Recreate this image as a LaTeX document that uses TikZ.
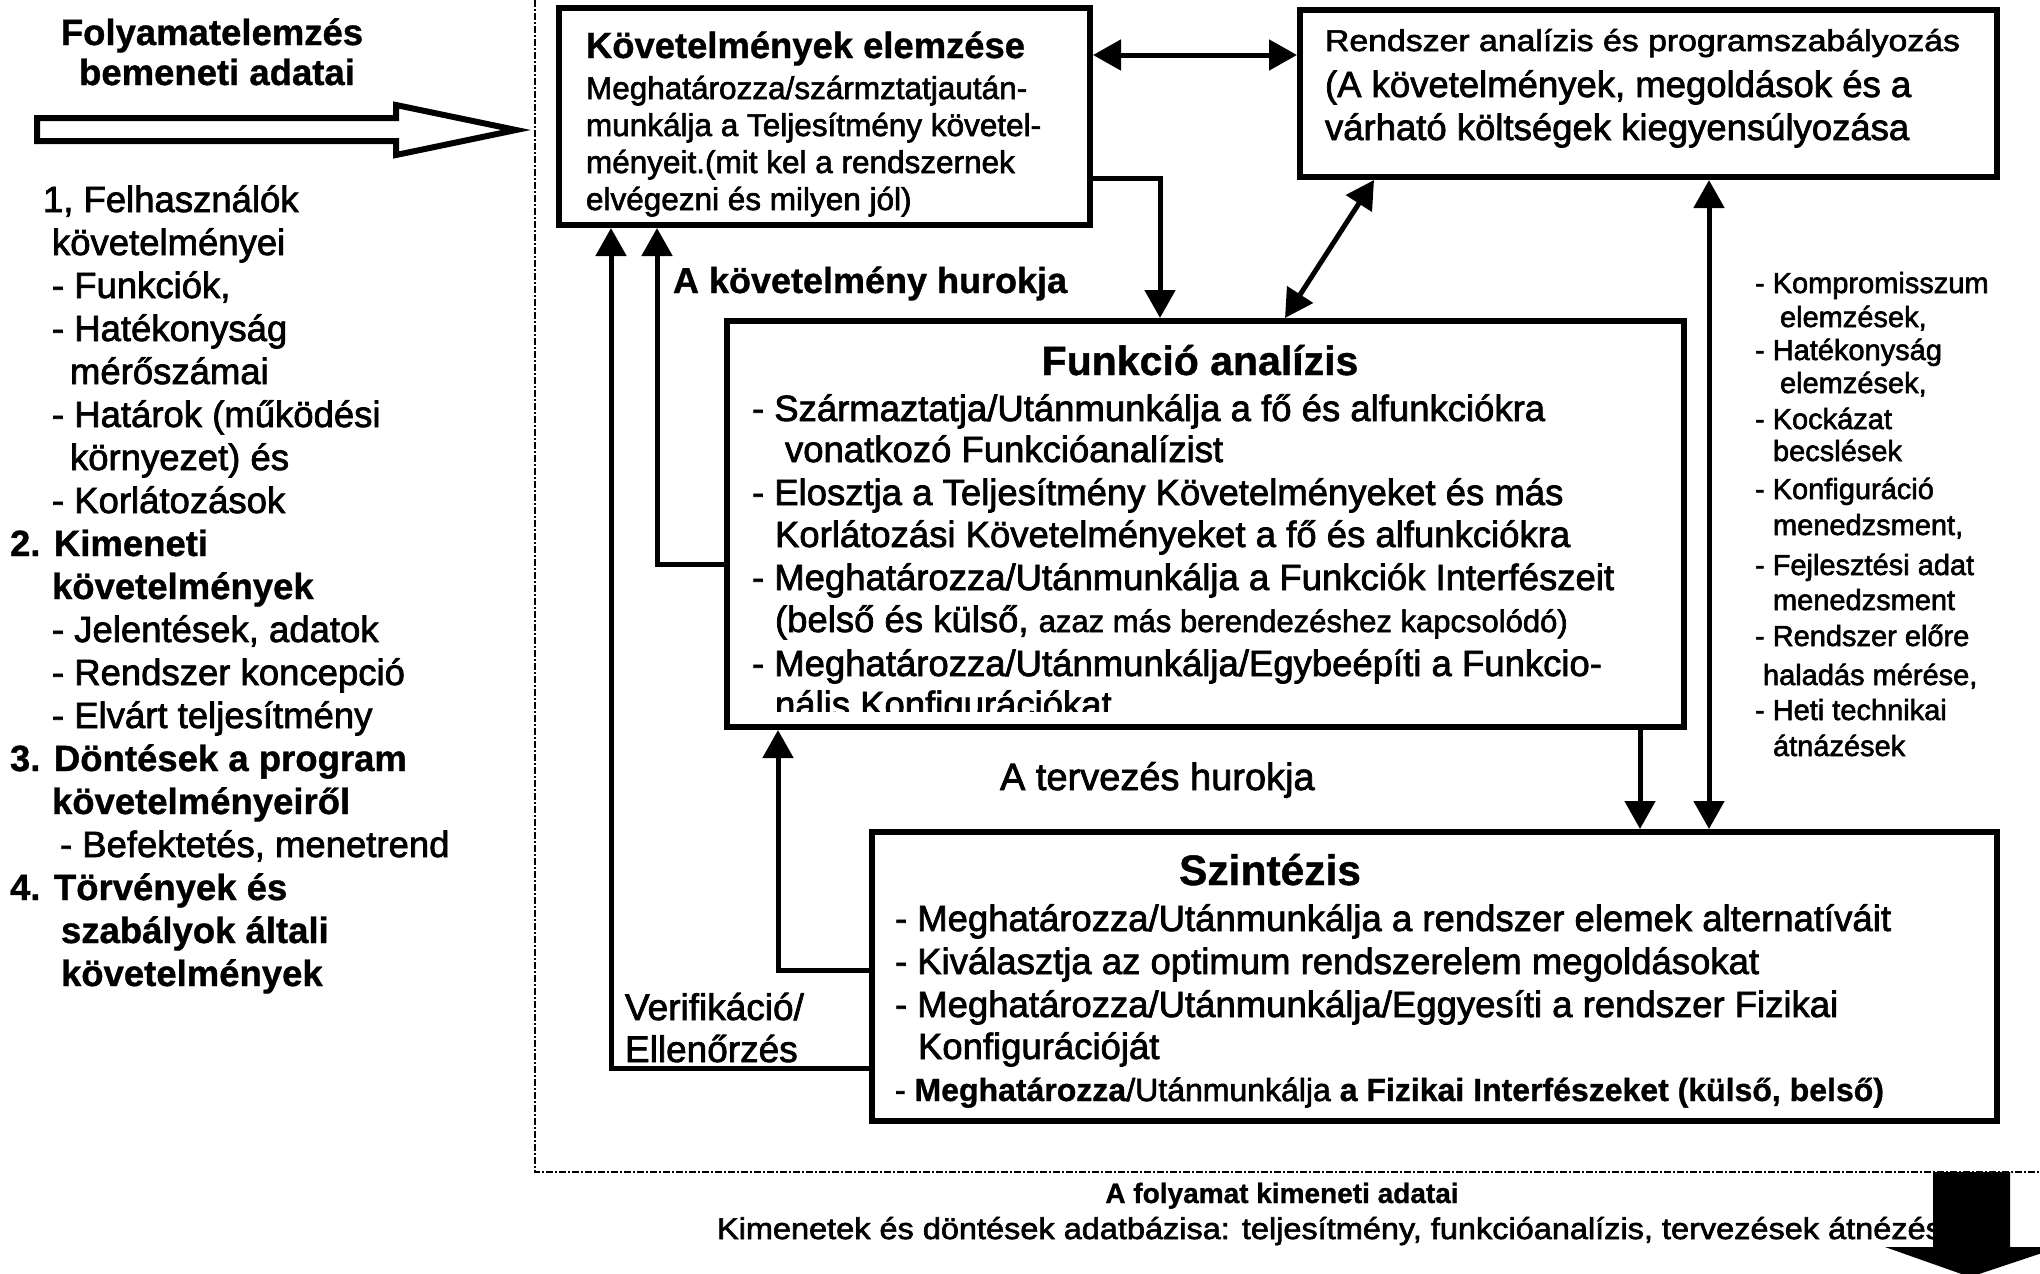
\documentclass[tikz,border=0pt]{standalone}
\usepackage{fontspec}
\setmainfont{Liberation Sans}[UprightFeatures={FakeBold=2}, BoldFeatures={FakeBold=1}]
\usetikzlibrary{arrows.meta,calc}
\newcommand\fsz[1]{\fontsize{#1pt}{#1pt}\selectfont}
\tikzset{
  box/.style={draw, line width=6pt, inner sep=0pt, outer sep=3pt},
  tx/.style={anchor=base west, inner sep=0pt, outer sep=0pt},
  tc/.style={anchor=base, inner sep=0pt, outer sep=0pt},
  conn/.style={line width=5pt},
  arr/.style={conn, -{Triangle[length=28pt,width=30pt]}},
  darr/.style={conn, {Triangle[length=28pt,width=30pt]}-{Triangle[length=28pt,width=30pt]}},
  frame/.style={line width=2.5pt, dash pattern=on 7pt off 2pt on 2pt off 2pt},
  lft/.style={tx, font=\fsz{36.5}},
  lftb/.style={tx, font=\fsz{36.5}\bfseries},
  rgt/.style={tx, font=\fsz{29}},
  body/.style={tx, font=\fsz{36.5}},
}
\begin{document}
\begin{tikzpicture}[x=1pt,y=-1pt]
\useasboundingbox (0,0) rectangle (2040,1274);
\fill[white] (0,0) rectangle (2040,1274);

% frame lines
\draw[frame] (535,0) -- (535,1172) -- (2040,1172);

% input header and hollow arrow
\node[tc, font=\fsz{36.5}\bfseries] (hd1) at (212,45) {Folyamatelemzés};
\node[tc, font=\fsz{36.5}\bfseries] (hd2) at (217,85) {bemeneti adatai};
\draw[line width=6pt, fill=white] (37,118) -- (396,118) -- (396,105) -- (516,130) -- (396,155) -- (396,141) -- (37,141) -- cycle;

% left list
\node[lft]  (L1)  at (43,212)  {1, Felhasználók};
\node[lft]  (L2)  at (52,255)  {követelményei};
\node[lft]  (L3)  at (52,298)  {- Funkciók,};
\node[lft]  (L4)  at (52,341)  {- Hatékonyság};
\node[lft]  (L5)  at (70,384)  {mérőszámai};
\node[lft]  (L6)  at (52,427)  {- Határok (működési};
\node[lft]  (L7)  at (70,470)  {környezet) és};
\node[lft]  (L8)  at (52,513)  {- Korlátozások};
\node[lftb] (L9)  at (10,556)  {2. Kimeneti};
\node[lftb] (L10) at (52,599)  {követelmények};
\node[lft]  (L11) at (52,642)  {- Jelentések, adatok};
\node[lft]  (L12) at (52,685)  {- Rendszer koncepció};
\node[lft]  (L13) at (52,728)  {- Elvárt teljesítmény};
\node[lftb] (L14) at (10,771)  {3. Döntések a program};
\node[lftb] (L15) at (52,814)  {követelményeiről};
\node[lft]  (L16) at (60,857)  {- Befektetés, menetrend};
\node[lftb] (L17) at (10,900)  {4. Törvények és};
\node[lftb] (L18) at (61,943)  {szabályok általi};
\node[lftb] (L19) at (61,986)  {követelmények};

% boxes
\node[box, minimum width=531pt, minimum height=217pt] (b1) at (824.5,116.5) {};
\node[box, minimum width=697pt, minimum height=167pt] (b2) at (1648.5,93.5) {};
\node[box, minimum width=957pt, minimum height=406pt] (fa) at (1205.5,524) {};
\node[box, minimum width=1125pt, minimum height=289pt] (sz) at (1434.5,976.5) {};

% box 1 text
\node[tx, font=\fsz{36.4}\bfseries] (b1t) at (586,58) {Követelmények elemzése};
\node[tx, font=\fsz{31.5}] (b1a) at (586,99)  {Meghatározza/szármztatjaután-};
\node[tx, font=\fsz{31.5}] (b1b) at (586,136) {munkálja a Teljesítmény követel-};
\node[tx, font=\fsz{31.5}] (b1c) at (586,173) {ményeit.(mit kel a rendszernek};
\node[tx, font=\fsz{31.5}] (b1d) at (586,210) {elvégezni és milyen jól)};

% box 2 text
\node[tx, font=\fsz{30}] (b2a) at (1325,51) {\resizebox{635pt}{\height}{Rendszer analízis és programszabályozás}};
\node[tx, font=\fsz{36.5}] (b2b) at (1325,97)  {(A követelmények, megoldások és a};
\node[tx, font=\fsz{36.5}] (b2c) at (1325,140) {várható költségek kiegyensúlyozása};

% function analysis text
\node[tc, font=\fsz{41}\bfseries] (fat) at (1200,375) {Funkció analízis};
\node[body] (fa1) at (752,421) {- Származtatja/Utánmunkálja a fő és alfunkciókra};
\node[body] (fa2) at (785,462) {vonatkozó Funkcióanalízist};
\node[body] (fa3) at (752,505) {- Elosztja a Teljesítmény Követelményeket és más};
\node[body] (fa4) at (775,547) {Korlátozási Követelményeket a fő és alfunkciókra};
\node[body] (fa5) at (752,590) {- Meghatározza/Utánmunkálja a Funkciók Interfészeit};
\node[body] (fa6) at (775,632) {(belső és külső, {\fsz{31}azaz más berendezéshez kapcsolódó)}};
\node[body] (fa7) at (752,676) {- Meghatározza/Utánmunkálja/Egybeépíti a Funkcio-};
\begin{scope}
  \clip (740,680) rectangle (1680,711);
  \node[body] (fa8) at (775,717) {nális Konfigurációkat};
\end{scope}

% synthesis text
\node[tc, font=\fsz{42.5}\bfseries] (szt) at (1270,885) {Szintézis};
\node[body] (sz1) at (895,931)  {- Meghatározza/Utánmunkálja a rendszer elemek alternatíváit};
\node[body] (sz2) at (895,974)  {- Kiválasztja az optimum rendszerelem megoldásokat};
\node[body] (sz3) at (895,1017) {- Meghatározza/Utánmunkálja/Eggyesíti a rendszer Fizikai};
\node[body] (sz4) at (918,1059) {Konfigurációját};
\node[tx, font=\fsz{32}] (sz5) at (895,1101) {- \textbf{Meghatározza}/Utánmunkálja \textbf{a Fizikai Interfészeket (külső, belső)}};

% loop labels
\node[tx, font=\fsz{36}\bfseries] (lk) at (673,293) {A követelmény hurokja};
\node[tx, font=\fsz{38}] (lt) at (1000,790) {A tervezés hurokja};
\node[tx, font=\fsz{37}] (lv1) at (625,1020) {Verifikáció/};
\node[tx, font=\fsz{37}] (lv2) at (625,1062) {Ellenőrzés};

% right list
\node[rgt] (R1)  at (1755,293) {- Kompromisszum};
\node[rgt] (R2)  at (1780,327) {elemzések,};
\node[rgt] (R3)  at (1755,360) {- Hatékonyság};
\node[rgt] (R4)  at (1780,393) {elemzések,};
\node[rgt] (R5)  at (1755,429) {- Kockázat};
\node[rgt] (R6)  at (1773,461) {becslések};
\node[rgt] (R7)  at (1755,499) {- Konfiguráció};
\node[rgt] (R8)  at (1773,535) {menedzsment,};
\node[rgt] (R9)  at (1755,575) {- Fejlesztési adat};
\node[rgt] (R10) at (1773,610) {menedzsment};
\node[rgt] (R11) at (1755,646) {- Rendszer előre};
\node[rgt] (R12) at (1763,685) {haladás mérése,};
\node[rgt] (R13) at (1755,720) {- Heti technikai};
\node[rgt] (R14) at (1773,756) {átnázések};

% connector helper coordinates
\coordinate (ya)  at (0,55);
\coordinate (yb)  at (0,178);
\coordinate (xc)  at (1160,0);
\coordinate (xd1) at (1374,0);
\coordinate (xd2) at (1285,0);
\coordinate (xv)  at (1709,0);
\coordinate (xf)  at (1640,0);
\coordinate (yg)  at (0,564);
\coordinate (xg)  at (657,0);
\coordinate (yh)  at (0,970);
\coordinate (xh)  at (778,0);
\coordinate (yi)  at (0,1068);
\coordinate (xi)  at (611,0);

% connectors
\draw[darr] (b1.east |- ya) -- (b2.west |- ya);
\draw[arr] (b1.east |- yb) -| (fa.north -| xc);
\draw[darr] (b2.south -| xd1) -- (fa.north -| xd2);
\draw[darr] (b2.south -| xv) -- (sz.north -| xv);
\draw[arr] (fa.south -| xf) -- (sz.north -| xf);
\draw[arr] (fa.west |- yg) -| (b1.south -| xg);
\draw[arr] (sz.west |- yh) -| (fa.south -| xh);
\draw[arr] (sz.west |- yi) -| (b1.south -| xi);

% output
\node[tc, font=\fsz{28}\bfseries] (out1) at (1282,1203) {A folyamat kimeneti adatai};
\node[tx, font=\fsz{30}] (out2) at (717,1239) {\resizebox{1243pt}{\height}{Kimenetek és döntések adatbázisa: teljesítmény, funkcióanalízis, tervezések átnézése}};
\fill (1933,1172) -- (2010,1172) -- (2010,1247) -- (2060,1247) -- (1970,1277) -- (1885,1247) -- (1933,1247) -- cycle;
\end{tikzpicture}
\end{document}
